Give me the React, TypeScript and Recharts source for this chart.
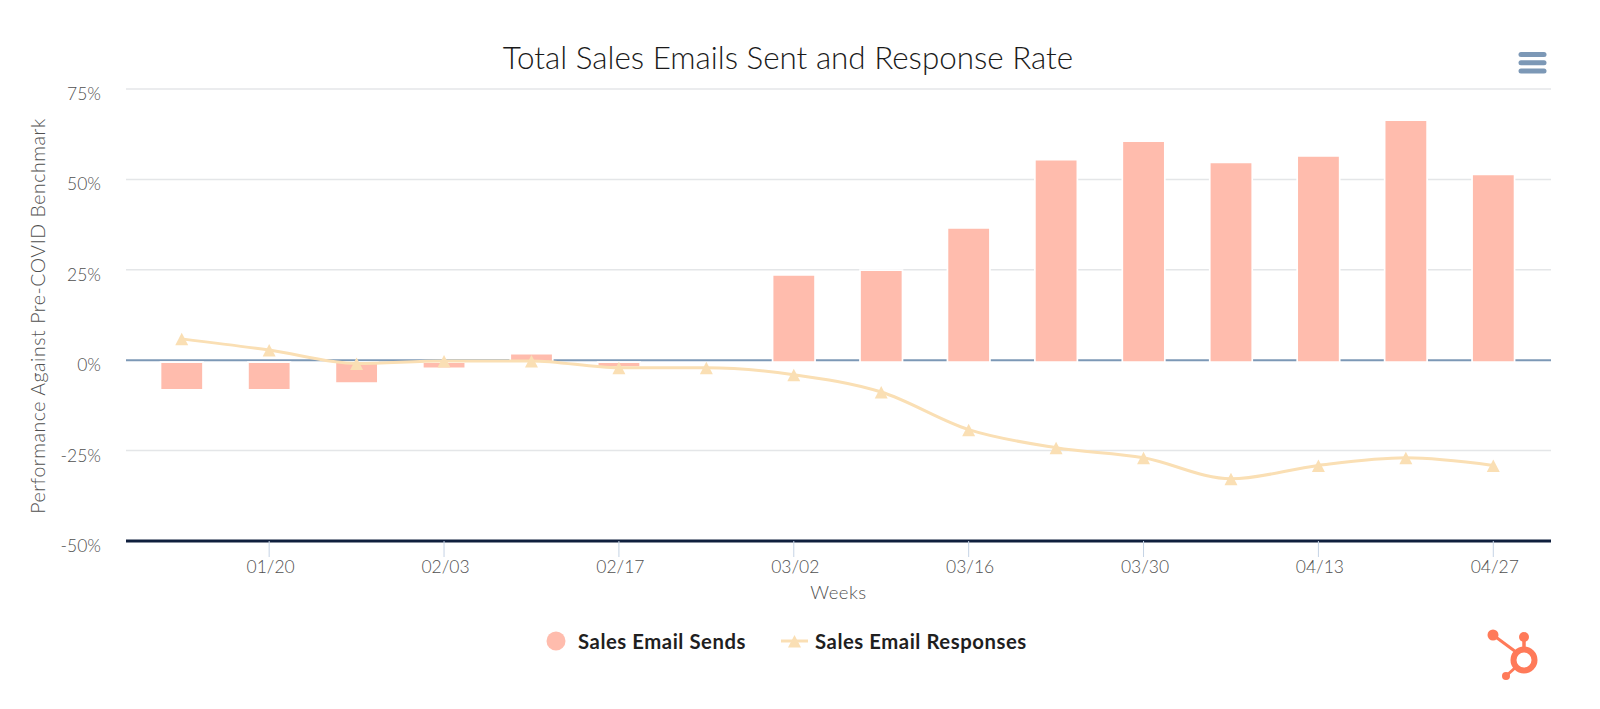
import {
  ComposedChart,
  Bar,
  Line,
  XAxis,
  YAxis,
  CartesianGrid,
  Legend,
  Rectangle,
} from "recharts";

const weeks = [
  "01/13", "01/20", "01/27", "02/03", "02/10", "02/17", "02/24", "03/02",
  "03/09", "03/16", "03/23", "03/30", "04/06", "04/13", "04/20", "04/27",
];
const sends = [-7.7, -7.7, -5.8, -1.75, 2.3, -1.4, null, 24.1, 25.4, 37.1, 56, 61.1, 55.2, 57, 66.9, 51.9];
const responses = [5.9, 2.8, -0.9, -0.2, -0.2, -2.1, -2.1, -4, -8.8, -19.2, -24.2, -27, -32.8, -29.1, -27, -29.1];
const weekTicks = ["01/20", "02/03", "02/17", "03/02", "03/16", "03/30", "04/13", "04/27"];
const percentTicks = [-50, -25, 0, 25, 50, 75];

const data = weeks.map((week, i) => ({ week, sends: sends[i], responses: responses[i] }));

const FONT = "Lato, sans-serif";
const BAR_COLOR = "#ffbcad";
const LINE_COLOR = "#fadfb4";
const TEXT_COLOR = "#505050";

function Triangle({ cx, cy }: any) {
  return <path d={`M${cx} ${cy - 6}L${cx + 6.5} ${cy + 6.5}L${cx - 6.5} ${cy + 6.5}Z`} fill={LINE_COLOR} />;
}

function PercentTick({ x, y, payload }: any) {
  return (
    <text x={x + 6} y={y + 11} textAnchor="end" fontSize={17.5} fontWeight={300} fill={TEXT_COLOR} fontFamily={FONT}>
      {payload.value}%
    </text>
  );
}

// the zero line sits in the grid so the bars paint over it
function GridLine({ x1, x2, y1, y2, index }: any) {
  const isZero = percentTicks[index] === 0;
  return <line x1={x1} x2={x2} y1={y1} y2={y2} stroke={isZero ? "#7c98b6" : "#e4e6e8"} strokeWidth={isZero ? 2 : 1.5} />;
}

// bars hang a little under the zero line in the original
function ShiftedBar(props: any) {
  return <Rectangle {...props} x={props.x + 0.5} y={props.y + 1.85} />;
}

function ChartLegend() {
  const label = { position: "absolute", top: 0, lineHeight: "24px", fontSize: 20.3, fontWeight: 700, letterSpacing: 0.55, color: "#1f1f1f", whiteSpace: "nowrap" } as const;
  return (
    <div style={{ position: "relative", height: 24, fontFamily: FONT }}>
      <svg width={1600} height={24} style={{ position: "absolute", left: 0, top: 0 }}>
        <circle cx={556} cy={12} r={9.5} fill={BAR_COLOR} />
        <line x1={781} x2={808} y1={12} y2={12} stroke={LINE_COLOR} strokeWidth={3} />
        <Triangle cx={794.5} cy={12} />
      </svg>
      <span style={{ ...label, left: 578 }}>Sales Email Sends</span>
      <span style={{ ...label, left: 815 }}>Sales Email Responses</span>
    </div>
  );
}

export default function App() {
  return (
    <div style={{ position: "absolute", left: 0, top: 0, width: 1600, height: 709, fontFamily: FONT, overflow: "hidden" }}>
      <div style={{ position: "absolute", top: 37, left: -12, width: 1600, textAlign: "center", fontSize: 31.4, fontWeight: 300, color: "#1a1a1a", lineHeight: "40px" }}>
        Total Sales Emails Sent and Response Rate
      </div>
      <ComposedChart
        width={1600}
        height={709}
        data={data}
        margin={{ top: 89, right: 49, bottom: 84, left: 0 }}
      >
        <CartesianGrid vertical={false} horizontal={(props: any) => <GridLine key={props.index} {...props} />} />
        <XAxis
          dataKey="week"
          ticks={weekTicks}
          interval={0}
          height={60}
          padding={{ left: 12, right: 14 }}
          tickSize={16}
          tickMargin={4}
          tickLine={{ stroke: "#c5d3e5" }}
          axisLine={{ stroke: "#0f1f3d", strokeWidth: 3 }}
          tick={{ fontSize: 17.5, fontWeight: 300, fill: TEXT_COLOR, fontFamily: FONT, dx: 1.5 }}
          label={{ value: "Weeks", position: "insideBottom", offset: 2, fontSize: 18.5, fontWeight: 300, letterSpacing: 0.5, fill: TEXT_COLOR, fontFamily: FONT }}
        />
        <YAxis
          width={126}
          domain={[-50, 75]}
          ticks={percentTicks}
          axisLine={false}
          tickLine={false}
          tick={<PercentTick />}
          tickMargin={25}
          label={{ value: "Performance Against Pre-COVID Benchmark", angle: -90, position: "center", dx: -25, dy: 1, fontSize: 19.5, fontWeight: 300, letterSpacing: 0.55, fill: TEXT_COLOR, fontFamily: FONT }}
        />
        <Bar dataKey="sends" fill={BAR_COLOR} stroke="#ffffff" strokeWidth={1.7} barSize={42.5} shape={<ShiftedBar />} isAnimationActive={false} />
        <Line
          dataKey="responses"
          type="monotone"
          stroke={LINE_COLOR}
          strokeWidth={3}
          dot={<Triangle />}
          activeDot={false}
          isAnimationActive={false}
        />
        <Legend
          verticalAlign="bottom"
          height={60}
          content={<ChartLegend />}
          wrapperStyle={{ position: "absolute", left: 0, top: 629, width: 1600, height: 24 }}
        />
      </ComposedChart>
      <svg width={1600} height={709} style={{ position: "absolute", left: 0, top: 0, pointerEvents: "none" }}>
        <g stroke="#7c98b6" strokeWidth={5} strokeLinecap="round">
          <line x1={1521} x2={1544} y1={54.5} y2={54.5} />
          <line x1={1521} x2={1544} y1={62.7} y2={62.7} />
          <line x1={1521} x2={1544} y1={71} y2={71} />
        </g>
        <g stroke="#ff7a59" fill="none">
          <circle cx={1524} cy={660} r={10.5} strokeWidth={6} />
          <line x1={1493} y1={635} x2={1516} y2={652} strokeWidth={3} />
          <line x1={1524} y1={637} x2={1524} y2={650} strokeWidth={3.5} />
          <line x1={1506} y1={676} x2={1516} y2={667} strokeWidth={3} />
        </g>
        <circle cx={1493} cy={635} r={5.5} fill="#ff7a59" />
        <circle cx={1524} cy={637} r={5} fill="#ff7a59" />
        <circle cx={1506} cy={676} r={4} fill="#ff7a59" />
      </svg>
    </div>
  );
}
